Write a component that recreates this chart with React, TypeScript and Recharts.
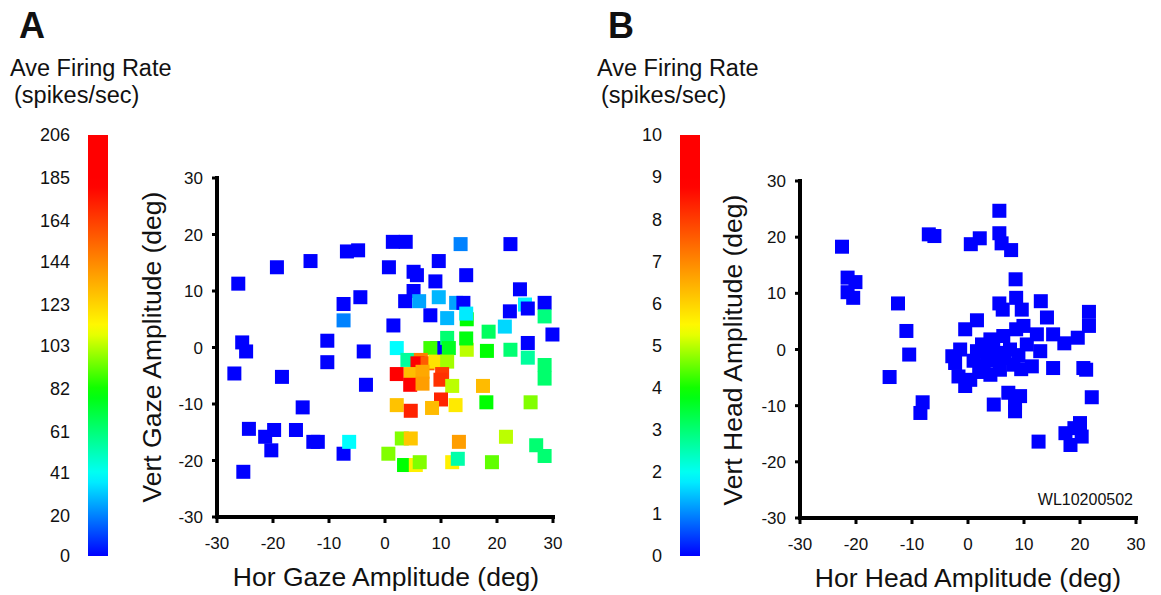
import React from 'react'
import { ScatterChart, Scatter, XAxis, YAxis, BarChart, Bar } from 'recharts'

// Panel A: gaze amplitude (deg) with average firing rate (spikes/sec)
const gazeX = [
  -26.2, -25.5, -24.8, -26.9, -24.3, -25.3, -19.3, -18.4, -21.4, -19.8, -20.3, -15.9, -14.7, -12.8, -12,
  -13.3, -6.8, -4.8, -7.4, -4.4, -7.4, -10.3, -10.3, -3.8, -3.4, -7.4, -6.4,
  1.4, 3.7, 13.5, 22.4, 0.7, 9.6, 5.1, 5.7, 9.0, 14.5, 24.1, 5.1, 3.6, 6.1, 9.6, 12.7, 14, 8.1, 11.1,
  14.6, 14.5, 22.3, 25, 25.5, 28.5, 28.5, 21.4, 1.5, 29.9, 18.5, 25.5, 2.1, 9.3, 14.6, 11.1, 14.5,
  18.2, 22.4, 25.5, 28.5, 28.5, 4.0, 8.1, 11.4, 6.4, 5.8, 7.6, 9.0, 11.1, 2.1, 4.6, 6.7, 4.5, 6.7,
  10.2, 9.9, 12.0, 17.5, 10.0, 2.1, 4.6, 8.4, 12.6, 18.1, 26, 3, 4.6, 13.2, 21.6, 27, 28.5, 12.0, 13,
  0.6, 3.4, 5.5, 6.2, 19.1,
]
const gazeY = [
  11.3, 0.9, -0.7, -4.6, -14.4, -22, 14.2, -5.2, -15.8, -14.6, -18.2, -14.6, -10.6, -16.7, -16.7,
  15.3, 17, 17.2, 7.7, 8.9, 4.8, 1.2, -2.6, -0.7, -6.6, -18.8, -16.7,
  18.7, 18.7, 18.3, 18.3, 14.2, 15.3, 13.4, 12.8, 11.7, 12.8, 10.3, 10, 8.2, 8.2, 8.9, 7.9, 7.9, 5.7, 5.2,
  5.0, 6.0, 6.4, 7.6, 6.9, 7.9, 5.5, 3.7, 3.9, 2.3, 2.8, 0.8, -0.1, -0.1, -0.4, 1.7, 1.6,
  -0.6, -0.4, -1.8, -3.1, -5.5, -2.2, -0.1, -0.1, -2.2, -2.8, -2.8, -2.5, -2.5, -4.7, -4.7, -4.3, -6.6, -6.4,
  -4.7, -5.7, -6.8, -6.8, -9.2, -10.2, -11.2, -10.7, -10.2, -9.7, -9.7, -16.1, -16.1, -16.7, -15.8, -17.3, -19.2, -20.3, -19.7,
  -18.8, -20.8, -20.8, -20.3, -20.3,
]
const gazeRate = [
  0, 0, 0, 0, 0, 0, 0, 0, 0, 0, 0, 0, 0, 0, 0,
  0, 0, 0, 0, 0, 20, 0, 0, 0, 0, 0, 39,
  0, 0, 20, 0, 0, 0, 0, 0, 0, 0, 0, 0, 0, 25, 28, 25, 0, 0, 28,
  80, 36, 0, 38, 0, 0, 60, 33, 0, 0, 65, 0, 39, 0, 103, 62, 78,
  80, 62, 55, 63, 63, 55, 88, 75, 146, 190, 156, 119, 100, 200, 129, 135, 200, 138,
  165, 168, 103, 130, 172, 128, 172, 130, 117, 80, 96, 96, 127, 138, 103, 62, 62, 115, 53,
  96, 80, 115, 96, 92,
]

// Panel B: head amplitude (deg), all cells near 0 spikes/sec
const headX = [
  -22.5, -21.5, -20.1, -21.5, -20.5, -7, -6, -12.5, -11, -10.5, -14, -8.1, -8.5,
  5.6, 5.6, 2.1, 0.5, 6, 7.7, 8.5, 8.6, 5.6, 6.2, 9.6, 13, 14.1, 21.6, 21.6, 1.6, -0.5, 15.2, 17.2, 19.6, 9.9, 8.6, 12.3,
  -1.4, -2.3, -1.7, -0.5, 0.4, 4, 6.3, 3.4, 5.7, 7.5, 2.8, 4, 5.7, 8.1, 11.4, 12.9, 15.2, 20.6, 1.6, 2.5, 10.5, 4.5, 6.5, 9, 5, 1, 9.5, 2, -2.8,
  7.2, 9.3, 4.6, 8.4, 8.4, 12.6, 17.4, 18.3, 20, 20.3, 19, 22.1, 21.1,
]
const headY = [
  18.3, 12.8, 12, 10.2, 9.2, 20.5, 20.2, 8.2, 3.3, -0.9, -4.9, -9.4, -11.3,
  24.7, 20.7, 19.8, 18.75, 18.9, 17.7, 12.5, 9.2, 8.2, 7.1, 7.1, 8.6, 5.7, 6.7, 4.2, 5.2, 3.6, 2.7, 1.1, 2.1, 4.2, 3.6, 2.7,
  0, -2.4, -4.8, -6.5, -5.4, 1.8, 2.4, -1.2, -0.6, 0, -3, -4.5, -3.6, -2.7, -3, -0.3, -3.3, -3.3, -0.3, 0.9, 0.9, 0.5, -1.5, -1, -2, -2, -3.5, -4, -1.2,
  -7.7, -8.3, -9.8, -11, -9.5, -16.4, -14.9, -17, -13.1, -15.5, -14, -8.5, -3.6,
]

const axisTicks = [-30, -20, -10, 0, 10, 20, 30]
const rateTicksA = [0, 20, 41, 61, 82, 103, 123, 144, 164, 185, 206]
const rateTicksB = [0, 1, 2, 3, 4, 5, 6, 7, 8, 9, 10]

const FONT = '"Liberation Sans", Arial, sans-serif'
const INK = '#111'

// jet-like colour map used by the colour bars
const HUE_KNOTS = [0, 0.19, 0.39, 0.54, 0.88, 1]
const HUE_VALUES = [240, 180, 120, 60, 0, 0]

function rateColor(f: number) {
  const t = Math.max(0, Math.min(1, f))
  let i = 0
  while (i < HUE_KNOTS.length - 2 && t > HUE_KNOTS[i + 1]) i++
  const a = HUE_KNOTS[i]
  const b = HUE_KNOTS[i + 1]
  const h = HUE_VALUES[i] + ((HUE_VALUES[i + 1] - HUE_VALUES[i]) * (t - a)) / (b - a)
  return `hsl(${h.toFixed(1)}, 100%, 50%)`
}

const gazeRows = gazeX.map((x, i) => ({ x, y: gazeY[i], rate: gazeRate[i] }))
const headRows = headX.map((x, i) => ({ x, y: headY[i], rate: 0 }))

const gradientSteps = Array.from({ length: 41 }, (_, k) => k / 40)

const makeSquare = (max: number) => (props: any) => {
  const { cx, cy, payload } = props
  if (cx == null || cy == null) return <g />
  return <rect x={cx - 7} y={cy - 7} width={14} height={14} fill={rateColor(payload.rate / max)} />
}

const tickStyle = { fontSize: 17, fill: INK, fontFamily: FONT }
const barTickStyle = { fontSize: 18, fill: INK, fontFamily: FONT }
const axisLineStyle = { stroke: '#000', strokeWidth: 4, strokeLinecap: 'square' as const }
const tickLineStyle = { stroke: '#000', strokeWidth: 3 }

function ColorBar({ left, ticks, max, id }: { left: number; ticks: number[]; max: number; id: string }) {
  return (
    <div style={{ position: 'absolute', left, top: 120 }}>
      <BarChart
        width={120}
        height={450}
        data={[{ name: 'bar', v: max }]}
        margin={{ top: 15, right: 12, bottom: 14, left: 0 }}
        barCategoryGap={0}
      >
        <defs>
          <linearGradient id={id} x1="0" y1="1" x2="0" y2="0">
            {gradientSteps.map((s) => (
              <stop key={s} offset={s} stopColor={rateColor(s)} />
            ))}
          </linearGradient>
        </defs>
        <XAxis dataKey="name" hide />
        <YAxis
          width={88}
          type="number"
          domain={[0, max]}
          ticks={ticks}
          interval={0}
          tickSize={0}
          tickMargin={18}
          axisLine={false}
          tickLine={false}
          tick={barTickStyle}
        />
        <Bar dataKey="v" fill={`url(#${id})`} isAnimationActive={false} />
      </BarChart>
    </div>
  )
}

function Panel({ left, top, height, data, max }: { left: number; top: number; height: number; data: any[]; max: number }) {
  return (
    <div style={{ position: 'absolute', left, top }}>
      <ScatterChart width={420} height={height} margin={{ top: 18, right: 17, bottom: 3, left: 7 }}>
        <XAxis
          type="number"
          dataKey="x"
          domain={[-30, 30]}
          ticks={axisTicks}
          interval={0}
          height={40}
          tickSize={6}
          tickMargin={14}
          axisLine={axisLineStyle}
          tickLine={tickLineStyle}
          tick={tickStyle}
        />
        <YAxis
          type="number"
          dataKey="y"
          domain={[-30, 30]}
          ticks={axisTicks}
          interval={0}
          width={60}
          tickSize={5}
          tickMargin={9}
          axisLine={axisLineStyle}
          tickLine={tickLineStyle}
          tick={tickStyle}
        />
        <Scatter data={data} shape={makeSquare(max)} isAnimationActive={false} />
      </ScatterChart>
    </div>
  )
}

export default function App() {
  return (
    <div style={{ position: 'absolute', left: 0, top: 0, width: 1161, height: 595, background: '#fff', fontFamily: FONT }}>
      <ColorBar left={0} ticks={rateTicksA} max={206} id="jetA" />
      <ColorBar left={592} ticks={rateTicksB} max={10} id="jetB" />
      <Panel left={150} top={160} height={400} data={gazeRows} max={206} />
      <Panel left={733} top={163} height={398} data={headRows} max={10} />
      <svg width={1161} height={595} style={{ position: 'absolute', left: 0, top: 0, pointerEvents: 'none' }}>
        <g fill={INK} fontFamily={FONT}>
          <text x={19} y={38} fontSize={36} fontWeight="bold">A</text>
          <text x={608} y={38} fontSize={36} fontWeight="bold">B</text>
          <text x={10} y={76} fontSize={23.5}>Ave Firing Rate</text>
          <text x={14} y={103} fontSize={23.5}>(spikes/sec)</text>
          <text x={597} y={76} fontSize={23.5}>Ave Firing Rate</text>
          <text x={601} y={103} fontSize={23.5}>(spikes/sec)</text>
          <text transform="translate(152,347) rotate(-90)" textAnchor="middle" dominantBaseline="central" fontSize={26.5}>
            Vert Gaze Amplitude (deg)
          </text>
          <text transform="translate(733,350) rotate(-90)" textAnchor="middle" dominantBaseline="central" fontSize={26.5}>
            Vert Head Amplitude (deg)
          </text>
          <text x={386} y={577} textAnchor="middle" dominantBaseline="central" fontSize={26.5}>
            Hor Gaze Amplitude (deg)
          </text>
          <text x={968} y={578} textAnchor="middle" dominantBaseline="central" fontSize={26.5}>
            Hor Head Amplitude (deg)
          </text>
          <text x={1133} y={505} textAnchor="end" fontSize={16}>WL10200502</text>
        </g>
      </svg>
    </div>
  )
}
